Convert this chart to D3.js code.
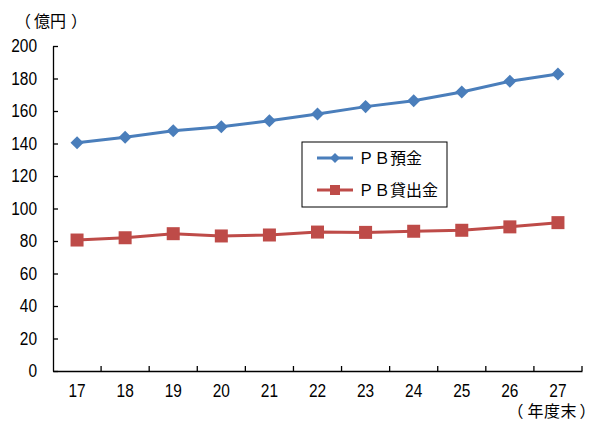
<!DOCTYPE html>
<html><head><meta charset="utf-8">
<script src="https://cdn.jsdelivr.net/npm/d3@7"></script>
<style>body{margin:0;background:#fff}svg{display:block}</style>
</head><body><svg id="c" width="596" height="421"></svg>
<script>
const categories = ["17","18","19","20","21","22","23","24","25","26","27"];
const deposits = [140.5,143.8,147.9,150.3,154.0,158.2,162.7,166.3,171.7,178.3,182.8];
const loans = [80.6,82.0,84.5,83.1,83.7,85.5,85.3,86.0,86.6,88.7,91.3];
const yTicks = [0,20,40,60,80,100,120,140,160,180,200];
const seriesNames = ["ＰＢ預金","ＰＢ貸出金"];
const yUnit = "（億円）";
const xUnit = "（年度末）";

const numFont = '"Liberation Sans",sans-serif';
const jpFont = '"Noto Sans CJK JP",sans-serif';

const svg = d3.select("#c");
const L=53, R=582, T=46, B=371;
const x = d3.scaleBand().domain(categories).range([L,R]);
const y = d3.scaleLinear().domain([0,200]).range([B,T]);
const cx = d => x(d)+x.bandwidth()/2;

function styleNums(sel){
  sel.style("font-family",numFont).style("font-size","18px").attr("fill","#000")
    .attr("lengthAdjust","spacingAndGlyphs")
    .attr("textLength",function(){ return this.textContent.length*8.6; });
}

// y axis
const ya = svg.append("g").attr("transform",`translate(${L},0)`)
  .call(d3.axisLeft(y).tickValues(yTicks).tickSizeInner(-5).tickSizeOuter(0).tickPadding(16));
ya.select(".domain").attr("stroke","#000").attr("stroke-width",1.3);
ya.selectAll(".tick line").attr("stroke","#000").attr("stroke-width",1.3);
styleNums(ya.selectAll("text"));

// x axis
const xa = svg.append("g").attr("transform",`translate(0,${B})`)
  .call(d3.axisBottom(x).tickSize(0).tickPadding(13));
xa.select(".domain").attr("stroke","#000").attr("stroke-width",1.3);
styleNums(xa.selectAll("text"));
const bounds = categories.map(c=>x(c)+x.bandwidth());
svg.append("g").selectAll("line").data(bounds).join("line")
  .attr("x1",d=>d).attr("x2",d=>d).attr("y1",B).attr("y2",B-5)
  .attr("stroke","#000").attr("stroke-width",1.3);

// unit labels: brackets set a little apart, as in the original's font
function unitText(str,xs,yb,em){
  const t = svg.append("text").attr("y",yb).style("font-size",em+"px").style("font-family",jpFont);
  t.selectAll("tspan").data(Array.from(str)).join("tspan")
    .attr("x",(d,i)=>xs[i]).text(d=>d);
}
unitText(yUnit,[15,34,50,71],27,16);
unitText(xUnit,[507.5,527.5,544,560.5,579.5],416.5,16);

const line = d3.line().x((d,i)=>cx(categories[i])).y(d=>y(d));
const blue="#4a7ebb", red="#be4b48";
svg.append("path").datum(deposits).attr("d",line).attr("fill","none").attr("stroke",blue).attr("stroke-width",3);
svg.append("path").datum(loans).attr("d",line).attr("fill","none").attr("stroke",red).attr("stroke-width",3);

const diamond = d3.symbol().type(d3.symbolSquare).size(85);
svg.append("g").selectAll("path").data(deposits).join("path")
  .attr("d",diamond).attr("fill",blue)
  .attr("transform",(d,i)=>`translate(${cx(categories[i])},${y(d)}) rotate(45)`);
svg.append("g").selectAll("rect").data(loans).join("rect")
  .attr("x",(d,i)=>cx(categories[i])-6.5).attr("y",d=>y(d)-6.5)
  .attr("width",13).attr("height",13).attr("fill",red);

// legend
const lg = svg.append("g");
lg.append("rect").attr("x",302).attr("y",142).attr("width",145).attr("height",65)
  .attr("fill","#fff").attr("stroke","#000").attr("stroke-width",1);
const ly=[158,190];
[blue,red].forEach((col,i)=>{
  lg.append("line").attr("x1",317).attr("x2",353).attr("y1",ly[i]).attr("y2",ly[i]).attr("stroke",col).attr("stroke-width",3);
  if(i===0) lg.append("path").attr("d",d3.symbol().type(d3.symbolSquare).size(50)).attr("fill",col)
    .attr("transform",`translate(335,${ly[i]}) rotate(45)`);
  else lg.append("rect").attr("x",330).attr("y",ly[i]-5).attr("width",10).attr("height",10).attr("fill",col);
  lg.append("text").attr("x",358).attr("y",ly[i]+6).style("font-size","16px")
    .style("font-family",jpFont).text(seriesNames[i]);
});
</script></body></html>
